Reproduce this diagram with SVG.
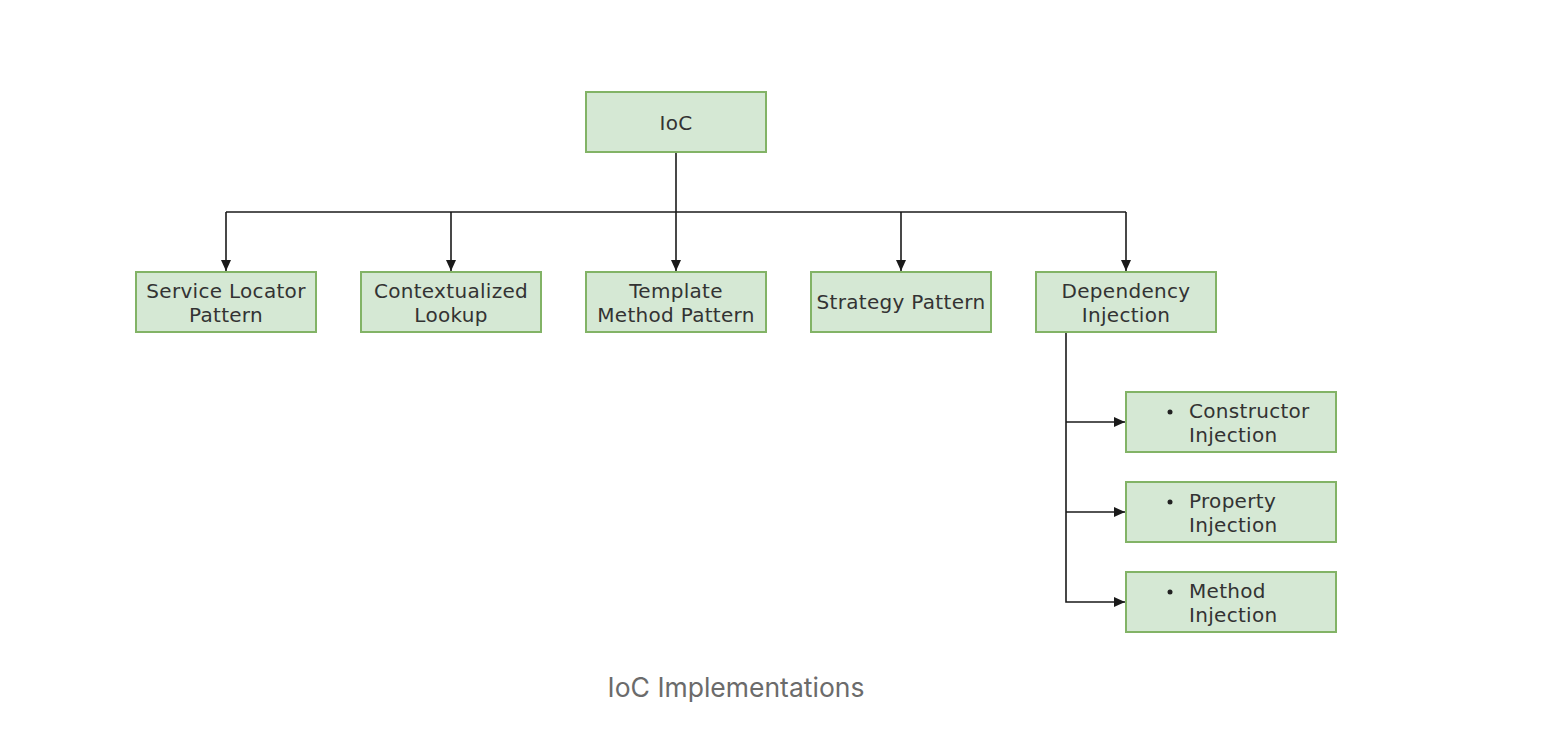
<svg xmlns="http://www.w3.org/2000/svg" width="1552" height="740" viewBox="0 0 1552 740">
<style>
.box{fill:#d5e8d4;stroke:#82b366;stroke-width:2}
.t{font-family:"DejaVu Sans",Verdana,sans-serif;font-size:20px;letter-spacing:0.3px;fill:#333;text-anchor:middle}
.tl{font-family:"DejaVu Sans",Verdana,sans-serif;font-size:20px;letter-spacing:0.3px;fill:#333}
.c{fill:none;stroke:#1a1a1a;stroke-width:1.6}
.cap{font-family:"Inter","Liberation Sans",sans-serif;font-size:26.5px;fill:#6b6b6b;text-anchor:middle}
</style>
<defs>
<marker id="ar" markerWidth="12" markerHeight="12" refX="11" refY="6" orient="auto" markerUnits="userSpaceOnUse">
<path d="M0,1 L11,6 L0,11 Z" fill="#1a1a1a"/>
</marker>
</defs>
<rect width="1552" height="740" fill="#fff"/>
<g id="connectors">
<path class="c" d="M676,152 V271" marker-end="url(#ar)"/>
<path class="c" d="M226,212 H1126"/>
<path class="c" d="M226,212 V271" marker-end="url(#ar)"/>
<path class="c" d="M451,212 V271" marker-end="url(#ar)"/>
<path class="c" d="M901,212 V271" marker-end="url(#ar)"/>
<path class="c" d="M1126,212 V271" marker-end="url(#ar)"/>
<path class="c" d="M1066,332 V602 H1125" marker-end="url(#ar)"/>
<path class="c" d="M1066,422 H1125" marker-end="url(#ar)"/>
<path class="c" d="M1066,512 H1125" marker-end="url(#ar)"/>
</g>
<g id="ioc"><rect class="box" x="586" y="92" width="180" height="60"/><text class="t" x="676" y="130">IoC</text></g>
<g id="service-locator"><rect class="box" x="136" y="272" width="180" height="60"/><text class="t" x="226" y="298">Service Locator</text><text class="t" x="226" y="322">Pattern</text></g>
<g id="contextualized-lookup"><rect class="box" x="361" y="272" width="180" height="60"/><text class="t" x="451" y="298">Contextualized</text><text class="t" x="451" y="322">Lookup</text></g>
<g id="template-method"><rect class="box" x="586" y="272" width="180" height="60"/><text class="t" x="676" y="298">Template</text><text class="t" x="676" y="322">Method Pattern</text></g>
<g id="strategy"><rect class="box" x="811" y="272" width="180" height="60"/><text class="t" x="901" y="309">Strategy Pattern</text></g>
<g id="dependency-injection"><rect class="box" x="1036" y="272" width="180" height="60"/><text class="t" x="1126" y="298">Dependency</text><text class="t" x="1126" y="322">Injection</text></g>
<g id="constructor-injection"><rect class="box" x="1126" y="392" width="210" height="60"/><circle cx="1170" cy="412" r="2.5" fill="#222"/><text class="tl" x="1189" y="418">Constructor</text><text class="tl" x="1189" y="442">Injection</text></g>
<g id="property-injection"><rect class="box" x="1126" y="482" width="210" height="60"/><circle cx="1170" cy="502" r="2.5" fill="#222"/><text class="tl" x="1189" y="508">Property</text><text class="tl" x="1189" y="532">Injection</text></g>
<g id="method-injection"><rect class="box" x="1126" y="572" width="210" height="60"/><circle cx="1170" cy="592" r="2.5" fill="#222"/><text class="tl" x="1189" y="598">Method</text><text class="tl" x="1189" y="622">Injection</text></g>
<text class="cap" x="736" y="697">IoC Implementations</text>
</svg>
